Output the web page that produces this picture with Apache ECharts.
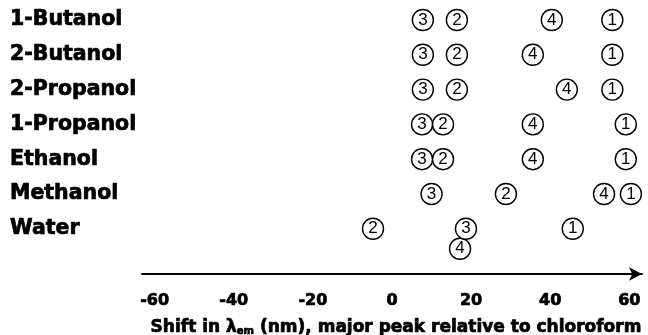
<!DOCTYPE html>
<html>
<head>
<meta charset="utf-8">
<script src="https://cdn.jsdelivr.net/npm/echarts@6/dist/echarts.min.js"></script>
<style>
html,body{margin:0;padding:0;background:#fff;}
#chart{width:648px;height:335px;}
</style>
</head>
<body>
<div id="chart"></div>
<script>
// Solvents (rows, top to bottom)
const solvents = ['1-Butanol', '2-Butanol', '2-Propanol', '1-Propanol', 'Ethanol', 'Methanol', 'Water'];
// Shift (nm) of each numbered peak, per solvent
const peak1 = [55.7, 55.7, 55.7, 59.1, 59.1, 60.4, 45.7];
const peak2 = [16.4, 16.4, 16.4, 12.9, 12.9, 28.8, -4.8];
const peak3 = [7.8, 7.8, 7.8, 7.6, 7.6, 10.0, 18.7];
const peak4 = [40.4, 35.6, 44.2, 35.6, 35.6, 53.6, 17.2];
const xTicks = [-60, -40, -20, 0, 20, 40, 60];
const peakNames = ['1', '4', '3', '2'];
const peakValues = [peak1, peak4, peak3, peak2];

const chart = echarts.init(document.getElementById('chart'), null, {renderer: 'canvas'});

const heavy = {textBorderColor: '#000', textBorderWidth: 0.7};

const series = peakValues.map((vals, k) => ({
  type: 'scatter',
  name: peakNames[k],
  clip: false,
  symbol: 'circle',
  symbolSize: 21,
  itemStyle: {color: '#ffffff', borderColor: '#000000', borderWidth: 1.4, opacity: 1},
  label: {
    show: true,
    position: 'inside',
    formatter: peakNames[k],
    color: '#000',
    fontFamily: 'Liberation Sans, Arial, sans-serif',
    fontSize: 17
  },
  emphasis: {disabled: true},
  data: vals.map((v, i) => {
    const d = {value: [v, i]};
    if (peakNames[k] === '4' && solvents[i] === 'Water') d.symbolOffset = [0, 20];
    return d;
  }),
  z: 2 + k
}));

chart.setOption({
  animation: false,
  backgroundColor: '#fff',
  grid: {left: 142, right: 6, top: 20, bottom: 61, containLabel: false, outerBoundsMode: 'none'},
  xAxis: {
    type: 'value',
    min: -63.2,
    max: 63.2,
    splitLine: {show: false},
    axisTick: {show: false},
    axisLine: {
      show: true,
      onZero: false,
      lineStyle: {color: '#000', width: 2},
      symbol: ['none', 'arrow'],
      symbolSize: [10, 13]
    },
    axisLabel: Object.assign({
      customValues: xTicks,
      margin: 19,
      color: '#000',
      fontFamily: 'DejaVu Sans',
      fontWeight: 'bold',
      fontSize: 16
    }, heavy),
    name: 'Shift in λ{sub|em} (nm), major peak relative to chloroform',
    nameLocation: 'middle',
    nameGap: 45,
    nameTextStyle: Object.assign({
      color: '#000',
      fontFamily: 'DejaVu Sans',
      fontWeight: 'bold',
      fontSize: 17,
      padding: [0, 0, 0, 8],
      rich: {
        sub: Object.assign({fontFamily: 'DejaVu Sans', fontWeight: 'bold', fontSize: 10, verticalAlign: 'bottom', padding: [6, 0, 0, 0], color: '#000'}, heavy)
      }
    }, heavy)
  },
  yAxis: {
    type: 'value',
    inverse: true,
    min: 0,
    max: 7.3,
    interval: 1,
    splitLine: {show: false},
    axisTick: {show: false},
    axisLine: {show: false},
    axisLabel: Object.assign({
      align: 'left',
      margin: 132,
      color: '#000',
      fontFamily: 'DejaVu Sans',
      fontWeight: 'bold',
      fontSize: 20.5,
      padding: [3, 0, 0, 0],
      formatter: v => (Number.isInteger(v) && solvents[v]) ? solvents[v] : ''
    }, heavy)
  },
  series: series
});
</script>
</body>
</html>
